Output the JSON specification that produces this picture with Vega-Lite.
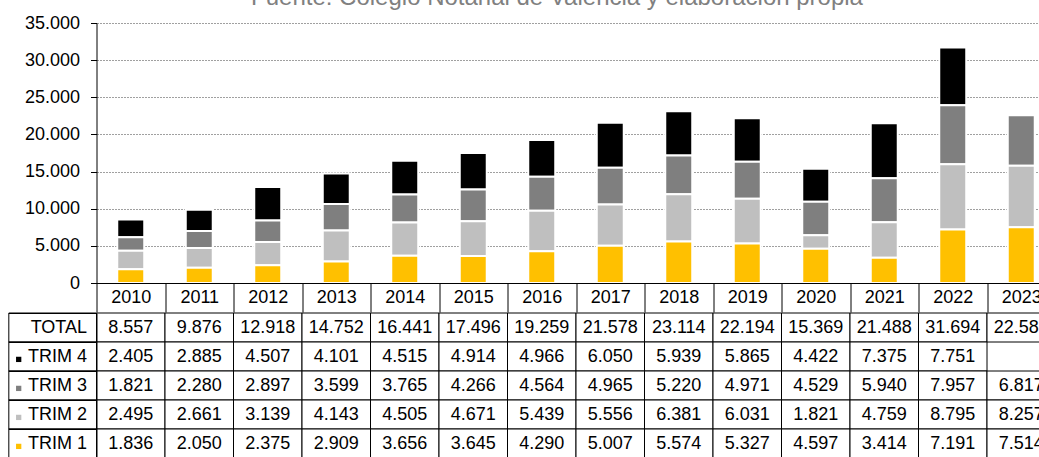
{
  "$schema": "https://vega.github.io/schema/vega-lite/v6.json",
  "padding": {"left": 7.5, "top": -14, "right": 0, "bottom": 0},
  "title": {"text": "Fuente: Colegio Notarial de Valencia y elaboración propia", "fontSize": 24, "font": "Liberation Sans", "fontWeight": "normal", "color": "#808080", "offset": 4, "anchor": "middle", "dx": 25},
  "config": {
    "locale": {"number": {"decimal": ",", "thousands": ".", "grouping": [3], "currency": ["", " €"]}},
    "view": {"stroke": null},
    "font": "Liberation Sans"
  },
  "spacing": -10,
  "data": {"values": [
    {"year": "2010", "serie": "TOTAL", "value": 8557}, {"year": "2010", "serie": "TRIM 4", "value": 2405}, {"year": "2010", "serie": "TRIM 3", "value": 1821}, {"year": "2010", "serie": "TRIM 2", "value": 2495}, {"year": "2010", "serie": "TRIM 1", "value": 1836},
    {"year": "2011", "serie": "TOTAL", "value": 9876}, {"year": "2011", "serie": "TRIM 4", "value": 2885}, {"year": "2011", "serie": "TRIM 3", "value": 2280}, {"year": "2011", "serie": "TRIM 2", "value": 2661}, {"year": "2011", "serie": "TRIM 1", "value": 2050},
    {"year": "2012", "serie": "TOTAL", "value": 12918}, {"year": "2012", "serie": "TRIM 4", "value": 4507}, {"year": "2012", "serie": "TRIM 3", "value": 2897}, {"year": "2012", "serie": "TRIM 2", "value": 3139}, {"year": "2012", "serie": "TRIM 1", "value": 2375},
    {"year": "2013", "serie": "TOTAL", "value": 14752}, {"year": "2013", "serie": "TRIM 4", "value": 4101}, {"year": "2013", "serie": "TRIM 3", "value": 3599}, {"year": "2013", "serie": "TRIM 2", "value": 4143}, {"year": "2013", "serie": "TRIM 1", "value": 2909},
    {"year": "2014", "serie": "TOTAL", "value": 16441}, {"year": "2014", "serie": "TRIM 4", "value": 4515}, {"year": "2014", "serie": "TRIM 3", "value": 3765}, {"year": "2014", "serie": "TRIM 2", "value": 4505}, {"year": "2014", "serie": "TRIM 1", "value": 3656},
    {"year": "2015", "serie": "TOTAL", "value": 17496}, {"year": "2015", "serie": "TRIM 4", "value": 4914}, {"year": "2015", "serie": "TRIM 3", "value": 4266}, {"year": "2015", "serie": "TRIM 2", "value": 4671}, {"year": "2015", "serie": "TRIM 1", "value": 3645},
    {"year": "2016", "serie": "TOTAL", "value": 19259}, {"year": "2016", "serie": "TRIM 4", "value": 4966}, {"year": "2016", "serie": "TRIM 3", "value": 4564}, {"year": "2016", "serie": "TRIM 2", "value": 5439}, {"year": "2016", "serie": "TRIM 1", "value": 4290},
    {"year": "2017", "serie": "TOTAL", "value": 21578}, {"year": "2017", "serie": "TRIM 4", "value": 6050}, {"year": "2017", "serie": "TRIM 3", "value": 4965}, {"year": "2017", "serie": "TRIM 2", "value": 5556}, {"year": "2017", "serie": "TRIM 1", "value": 5007},
    {"year": "2018", "serie": "TOTAL", "value": 23114}, {"year": "2018", "serie": "TRIM 4", "value": 5939}, {"year": "2018", "serie": "TRIM 3", "value": 5220}, {"year": "2018", "serie": "TRIM 2", "value": 6381}, {"year": "2018", "serie": "TRIM 1", "value": 5574},
    {"year": "2019", "serie": "TOTAL", "value": 22194}, {"year": "2019", "serie": "TRIM 4", "value": 5865}, {"year": "2019", "serie": "TRIM 3", "value": 4971}, {"year": "2019", "serie": "TRIM 2", "value": 6031}, {"year": "2019", "serie": "TRIM 1", "value": 5327},
    {"year": "2020", "serie": "TOTAL", "value": 15369}, {"year": "2020", "serie": "TRIM 4", "value": 4422}, {"year": "2020", "serie": "TRIM 3", "value": 4529}, {"year": "2020", "serie": "TRIM 2", "value": 1821}, {"year": "2020", "serie": "TRIM 1", "value": 4597},
    {"year": "2021", "serie": "TOTAL", "value": 21488}, {"year": "2021", "serie": "TRIM 4", "value": 7375}, {"year": "2021", "serie": "TRIM 3", "value": 5940}, {"year": "2021", "serie": "TRIM 2", "value": 4759}, {"year": "2021", "serie": "TRIM 1", "value": 3414},
    {"year": "2022", "serie": "TOTAL", "value": 31694}, {"year": "2022", "serie": "TRIM 4", "value": 7751}, {"year": "2022", "serie": "TRIM 3", "value": 7957}, {"year": "2022", "serie": "TRIM 2", "value": 8795}, {"year": "2022", "serie": "TRIM 1", "value": 7191},
    {"year": "2023", "serie": "TOTAL", "value": 22588}, {"year": "2023", "serie": "TRIM 3", "value": 6817}, {"year": "2023", "serie": "TRIM 2", "value": 8257}, {"year": "2023", "serie": "TRIM 1", "value": 7514}
  ]},
  "vconcat": [
    {
      "width": 959,
      "height": 260,
      "transform": [{"filter": "datum.serie !== 'TOTAL'"}],
      "mark": {"type": "bar", "width": {"band": 0.394}, "stroke": "white", "strokeWidth": 2},
      "encoding": {
        "x": {"field": "year", "type": "nominal", "scale": {"paddingInner": 0, "paddingOuter": 0},
              "axis": {"title": null, "labelAngle": 0, "tickBand": "extent", "tickSize": 29, "tickColor": "black", "domainColor": "black", "labelFontSize": 18, "labelColor": "black", "labelPadding": -14.5, "labelBaseline": "middle", "zindex": 1}},
        "y": {"field": "value", "type": "quantitative", "stack": "zero", "scale": {"domain": [0, 35000], "nice": false},
              "axis": {"title": null, "values": [0, 5000, 10000, 15000, 20000, 25000, 30000, 35000], "format": ",d", "tickSize": 6, "tickColor": "black", "domainColor": "black", "labelFontSize": 18, "labelColor": "black", "labelPadding": 11, "gridColor": "#a0a0a0", "gridDash": [2, 1], "gridWidth": 1}},
        "color": {"field": "serie", "type": "nominal", "scale": {"domain": ["TRIM 1", "TRIM 2", "TRIM 3", "TRIM 4"], "range": ["#FFC000", "#BFBFBF", "#7F7F7F", "#000000"]}, "legend": null},
        "order": {"field": "serie", "sort": "ascending"}
      }
    },
    {
      "width": 959,
      "height": 145,
      "layer": [
        {
          "mark": {"type": "rect", "fill": "white", "stroke": "black", "strokeWidth": 1},
          "encoding": {
            "x": {"field": "year", "type": "nominal", "scale": {"paddingInner": 0, "paddingOuter": 0}, "axis": null},
            "y": {"field": "serie", "type": "nominal", "scale": {"domain": ["TOTAL", "TRIM 4", "TRIM 3", "TRIM 2", "TRIM 1"], "paddingInner": 0, "paddingOuter": 0},
                  "axis": {"title": null, "tickBand": "extent", "tickSize": 88, "tickColor": "black", "domainColor": "black", "labelFontSize": 18, "labelColor": "black", "labelPadding": -78, "labelAlign": "right", "grid": false}}
          }
        },
        {
          "mark": {"type": "text", "fontSize": 18, "color": "black"},
          "encoding": {
            "x": {"field": "year", "type": "nominal"},
            "y": {"field": "serie", "type": "nominal"},
            "text": {"field": "value", "type": "quantitative", "format": ",d"}
          }
        },
        {
          "transform": [{"filter": "datum.year === '2010'"}],
          "mark": {"type": "rect", "fill": null, "filled": false, "stroke": "black", "strokeWidth": 1},
          "encoding": {
            "x": {"datum": "2010", "bandPosition": -1.28},
            "x2": {"datum": "2010", "bandPosition": 0},
            "y": {"field": "serie", "type": "nominal"}
          }
        },
        {
          "transform": [{"filter": "datum.serie !== 'TOTAL' && datum.year === '2010'"}],
          "mark": {"type": "square", "size": 28, "opacity": 1},
          "encoding": {
            "x": {"datum": "2010", "bandPosition": -1.136},
            "y": {"field": "serie", "type": "nominal", "bandPosition": 0.6},
            "color": {"field": "serie", "type": "nominal", "scale": {"domain": ["TRIM 1", "TRIM 2", "TRIM 3", "TRIM 4"], "range": ["#FFC000", "#BFBFBF", "#7F7F7F", "#000000"]}, "legend": null}
          }
        }
      ]
    }
  ]
}
